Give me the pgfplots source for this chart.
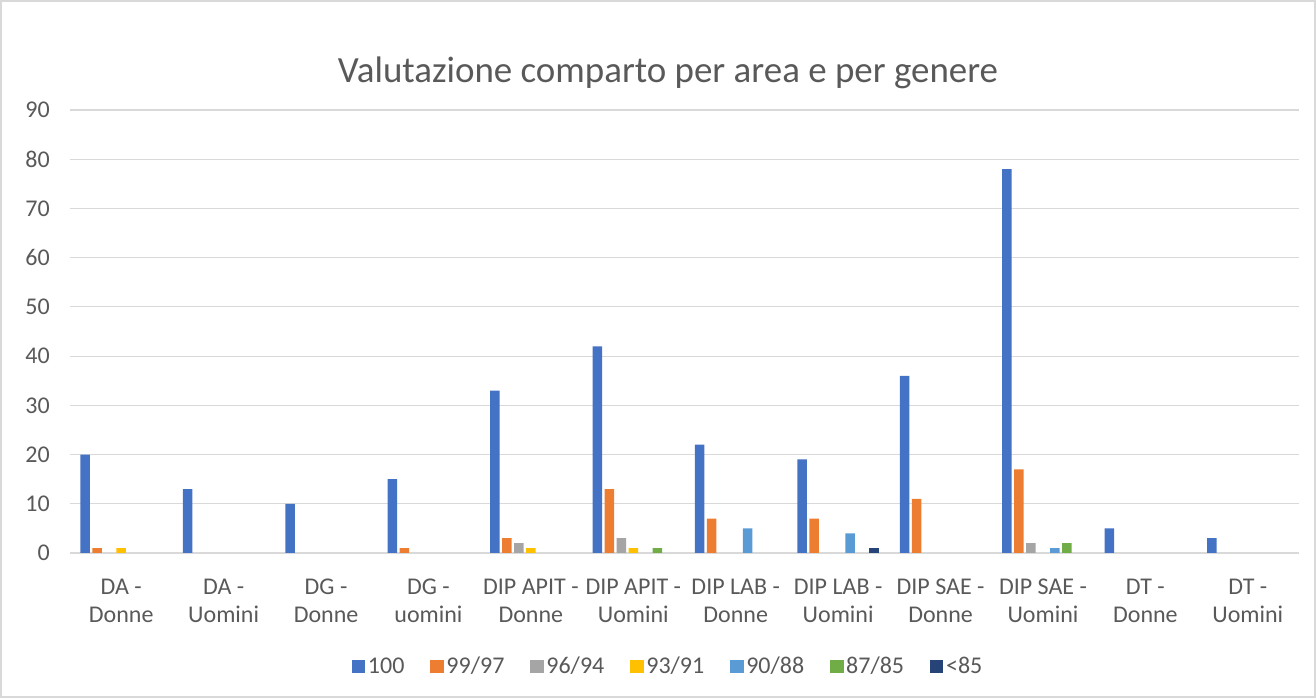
\documentclass[border=0pt]{standalone}
\usepackage{fontspec}
\setmainfont{Carlito}
\usepackage{pgfplots}
\pgfplotsset{compat=1.18}
\definecolor{c1}{HTML}{4472C4}
\definecolor{c2}{HTML}{ED7D31}
\definecolor{c3}{HTML}{A5A5A5}
\definecolor{c4}{HTML}{FFC000}
\definecolor{c5}{HTML}{5B9BD5}
\definecolor{c6}{HTML}{70AD47}
\definecolor{c7}{HTML}{264478}
\definecolor{txt}{HTML}{595959}
\definecolor{gridc}{HTML}{D9D9D9}
\pgfplotsset{myleg/.style={legend image code/.code={\fill[##1] (0pt,-5pt) rectangle (10pt,5pt);}}}
\begin{document}
\begin{tikzpicture}[x=1pt,y=1pt]
\path[use as bounding box] (-52.5,-108.75) rectangle (934.5,414.75);
\draw[gridc, line width=0.9pt] (-51.75,-108) rectangle (933.75,414);
\node[anchor=base, text=txt, font=\fontsize{27.7}{33}\selectfont] at (448.5,352.9) {Valutazione comparto per area e per genere};
\begin{axis}[
  at={(0,0)}, anchor=south west,
  scale only axis, width=921.75pt, height=332.25pt,
  ybar=1.875pt, bar width=7.125pt,
  xmin=-0.5, xmax=11.5, ymin=0, ymax=90,
  ytick={0,10,...,90},
  xtick={0,...,11},
  xticklabels={{DA -\\Donne},{DA -\\Uomini},{DG -\\Donne},{DG -\\uomini},{DIP APIT -\\Donne},{DIP APIT -\\Uomini},{DIP LAB -\\Donne},{DIP LAB -\\Uomini},{DIP SAE -\\Donne},{DIP SAE -\\Uomini},{DT -\\Donne},{DT -\\Uomini}},
  ymajorgrids, grid style={gridc, line width=0.9pt},
  axis line style={draw=none}, tick style={draw=none},
  /pgf/number format/assume math mode=true,
  tick label style={font=\fontsize{18}{21}\selectfont, text=txt},
  yticklabel style={inner sep=0pt, xshift=-15pt},
  xticklabel style={align=center, inner sep=0pt, yshift=-15pt},
  legend style={at={(0.487,-0.256)}, anchor=center, draw=none, legend columns=7,
    font=\fontsize{18}{21}\selectfont, text=txt,
    nodes={inner sep=2pt},
    /tikz/every even column/.append style={column sep=17.5pt}},
]
\addplot[fill=c1, draw=none, myleg] coordinates {(0,20) (1,13) (2,10) (3,15) (4,33) (5,42) (6,22) (7,19) (8,36) (9,78) (10,5) (11,3)};
\addplot[fill=c2, draw=none, myleg] coordinates {(0,1) (3,1) (4,3) (5,13) (6,7) (7,7) (8,11) (9,17)};
\addplot[fill=c3, draw=none, myleg] coordinates {(4,2) (5,3) (9,2)};
\addplot[fill=c4, draw=none, myleg] coordinates {(0,1) (4,1) (5,1)};
\addplot[fill=c5, draw=none, myleg] coordinates {(6,5) (7,4) (9,1)};
\addplot[fill=c6, draw=none, myleg] coordinates {(5,1) (9,2)};
\addplot[fill=c7, draw=none, myleg] coordinates {(7,1)};
\legend{100,99/97,96/94,93/91,90/88,87/85,<85}
\end{axis}
\end{tikzpicture}
\end{document}
